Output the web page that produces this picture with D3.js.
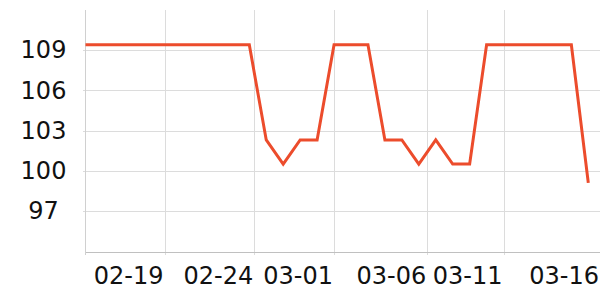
<!DOCTYPE html>
<html>
<head>
<meta charset="utf-8">
<script src="https://cdn.jsdelivr.net/npm/d3@7"></script>
<style>
  body { margin: 0; background: #fff; }
  svg { display: block; font-family: "DejaVu Sans", sans-serif; }
</style>
</head>
<body>
<div id="chart"></div>
<script>
// Daily series, 02-14 .. 03-16
const dates = [
  "2019-02-14", "2019-02-15", "2019-02-16", "2019-02-17", "2019-02-18",
  "2019-02-19", "2019-02-20", "2019-02-21", "2019-02-22", "2019-02-23",
  "2019-02-24", "2019-02-25", "2019-02-26", "2019-02-27", "2019-02-28",
  "2019-03-01", "2019-03-02", "2019-03-03", "2019-03-04", "2019-03-05",
  "2019-03-06", "2019-03-07", "2019-03-08", "2019-03-09", "2019-03-10",
  "2019-03-11", "2019-03-12", "2019-03-13", "2019-03-14", "2019-03-15",
  "2019-03-16"
];
const values = [
  109.4, 109.4, 109.4, 109.4, 109.4,
  109.4, 109.4, 109.4, 109.4, 109.4,
  109.4, 102.3, 100.5, 102.3, 102.3,
  109.4, 109.4, 109.4, 102.3, 102.3,
  100.5, 102.3, 100.5, 100.5, 109.4,
  109.4, 109.4, 109.4, 109.4, 109.4,
  99.1
];

// x ticks as placed in the original
const xTicks = [
  "2019-02-19T00:00", "2019-02-24T07:05", "2019-03-01T00:00",
  "2019-03-06T12:00", "2019-03-11T00:00", "2019-03-16T16:34"
];
const yTicks = [97, 100, 103, 106, 109];

const width = 600, height = 300;
const margin = { top: 10, right: 0, bottom: 48, left: 85.5 };
const innerBottom = 252.5;

const parse = d3.utcParse("%Y-%m-%d");
const parseT = d3.utcParse("%Y-%m-%dT%H:%M");
const data = dates.map((d, i) => ({ date: parse(d), value: values[i] }));

const xScale = d3.scaleUtc()
  .domain([parseT("2019-02-14T08:04"), parseT("2019-03-16T16:34")])
  .range([margin.left, width - margin.right]);

const yScale = d3.scaleLinear()
  .domain([93.9, 112])
  .range([innerBottom, margin.top]);

const svg = d3.select("#chart")
  .append("svg")
  .attr("width", width)
  .attr("height", height);

// clip to plot area
svg.append("clipPath")
  .attr("id", "plot-clip")
  .append("rect")
  .attr("x", margin.left)
  .attr("y", margin.top)
  .attr("width", width - margin.left)
  .attr("height", innerBottom - margin.top);

// Horizontal grid + y labels
const yAxis = svg.append("g")
  .attr("transform", `translate(${margin.left},0)`)
  .call(d3.axisLeft(yScale).tickValues(yTicks).tickSize(-(width - margin.left)).tickSizeOuter(0));
yAxis.select(".domain").remove();
yAxis.selectAll(".tick line")
  .attr("x1", -3)
  .attr("stroke", "#dcdcdc")
  .attr("shape-rendering", "crispEdges");
yAxis.selectAll(".tick text")
  .attr("x", -42)
  .attr("text-anchor", "middle")
  .attr("font-size", "24px")
  .attr("font-family", "DejaVu Sans")
  .attr("fill", "#111");

// Vertical grid + x labels
const fmt = d3.utcFormat("%m-%d");
const xAxis = svg.append("g")
  .attr("transform", `translate(0,${innerBottom})`)
  .call(d3.axisBottom(xScale).tickValues(xTicks.map(parseT)).tickFormat(fmt).tickSizeOuter(0));
xAxis.select(".domain").remove();
xAxis.selectAll(".tick line")
  .attr("y1", -(innerBottom - margin.top))
  .attr("y2", 2)
  .attr("stroke", "#dcdcdc")
  .attr("shape-rendering", "crispEdges");
xAxis.selectAll(".tick text")
  .attr("x", -1.5)
  .attr("y", 31)
  .attr("dy", 0)
  .attr("text-anchor", "end")
  .attr("font-size", "24px")
  .attr("font-family", "DejaVu Sans")
  .attr("fill", "#111");

// Axis lines
svg.append("line")
  .attr("x1", margin.left).attr("x2", margin.left)
  .attr("y1", margin.top).attr("y2", innerBottom + 2)
  .attr("stroke", "#d0d0d0")
  .attr("shape-rendering", "crispEdges");
svg.append("line")
  .attr("x1", margin.left).attr("x2", width)
  .attr("y1", innerBottom).attr("y2", innerBottom)
  .attr("stroke", "#c0c0c0")
  .attr("shape-rendering", "crispEdges");

// Line
const line = d3.line()
  .x(d => xScale(d.date))
  .y(d => yScale(d.value));

svg.append("path")
  .datum(data)
  .attr("clip-path", "url(#plot-clip)")
  .attr("d", line)
  .attr("fill", "none")
  .attr("stroke", "#ec4c2c")
  .attr("stroke-width", 3)
  .attr("stroke-linejoin", "miter");
</script>
</body>
</html>
